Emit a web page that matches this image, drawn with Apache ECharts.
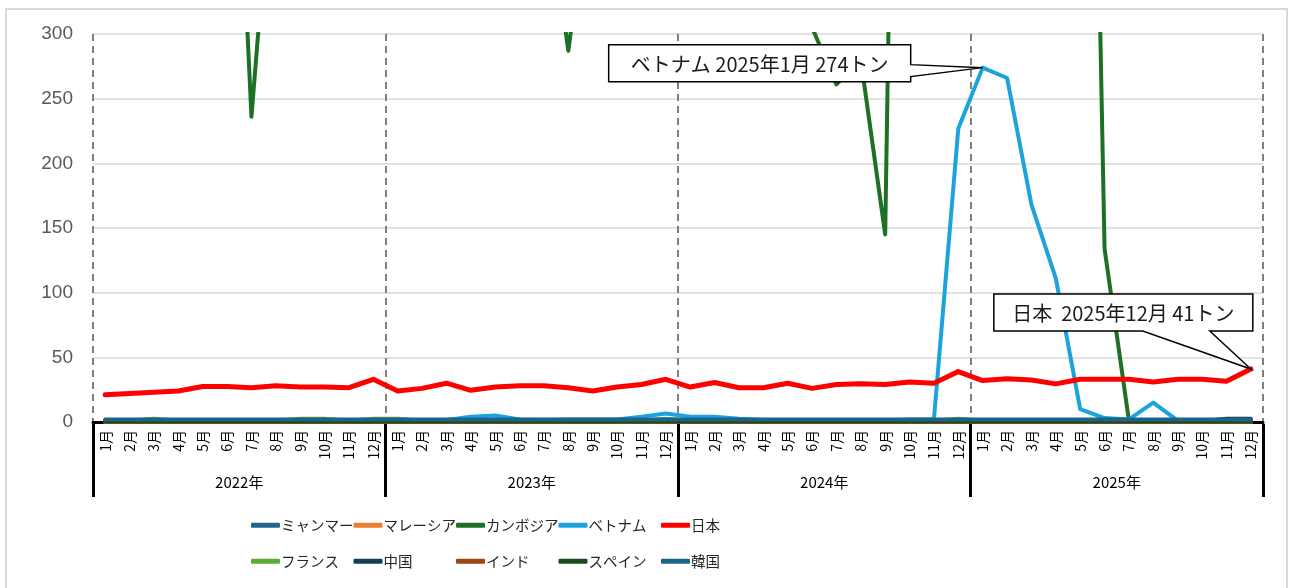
<!DOCTYPE html>
<html>
<head>
<meta charset="utf-8">
<script src="https://cdn.jsdelivr.net/npm/echarts@6/dist/echarts.min.js"></script>
<style>
  html, body { margin: 0; padding: 0; background: #fff; }
  #chart { width: 1290px; height: 588px; }
</style>
</head>
<body>
<div id="chart"></div>
<script>
// Monthly volumes (tonnes), January 2022 – December 2025
const years = ['2022年', '2023年', '2024年', '2025年'];
const months = ['1月', '2月', '3月', '4月', '5月', '6月', '7月', '8月', '9月', '10月', '11月', '12月'];
const yTicks = [0, 50, 100, 150, 200, 250, 300];

const myanmar = [
  1, 1, 1, 1, 1, 1, 1, 1, 1, 1, 1, 1,
  1, 1, 1, 1, 1, 1, 1, 1, 1, 1, 1, 1,
  1, 1, 1, 1, 1, 1, 1, 1, 1, 1, 1, 1,
  1, 1, 1, 1, 1, 1, 1, 1, 1, 1, 1, 1
];
const malaysia = [
  0, 0, 0, 0, 0, 0, 0, 0, 0, 0, 0, 0,
  0, 0, 0, 0, 0, 0, 0, 0, 0, 0, 0, 0,
  0, 0, 0, 0, 0, 0, 0, 0, 0, 0, 0, 0,
  0, 0, 0, 0, 0, 0, 0, 0, 0, 0, 0, 0
];
const cambodia = [
  520, 610, 560, 700, 590, 640, 236, 470, 540, 610, 580, 650,
  620, 540, 600, 680, 560, 520, 425, 287, 430, 560, 620, 700,
  640, 590, 530, 470, 420, 305, 261, 280, 145, 1320, 1500, 1250,
  1400, 1600, 1350, 1200, 1090, 134, 1, 0, 0, 0, 0, 0
];
const vietnam = [
  0.5, 0.5, 1, 0.5, 0.5, 0.5, 0.5, 0.5, 1, 1, 0.5, 1,
  1.5, 1, 1.5, 4, 5, 2, 1.5, 2, 2, 2, 4, 6.5,
  4, 4, 2.5, 1.5, 1, 0.5, 0.5, 0.5, 1, 2, 2, 227,
  274, 266, 168, 111, 10, 3, 2, 15, 1, 0, 0.5, 1
];
const japan = [
  21, 22, 23, 24, 27.5, 27.5, 26.5, 28, 27, 27, 26.5, 33,
  24, 26, 30, 24.5, 27, 28, 28, 26.5, 24, 27, 29, 33,
  27, 30.5, 26.5, 26.5, 30, 26, 29, 29.5, 29, 31, 30, 39,
  32, 33.5, 32.5, 29.5, 33, 33, 33, 31, 33, 33, 31.5, 41
];
const france = [
  1, 1, 2.5, 1, 1, 1, 1, 1, 2.5, 2.5, 1, 2.5,
  2.5, 1, 1, 1, 1, 1, 1, 1, 1, 1, 1, 2.5,
  1, 1, 1, 1, 1, 1, 1, 1, 1, 1, 1, 2.5,
  1, 1, 1, 1, 1, 1, 1, 1, 1, 1, 1, 1
];
const china = [
  0.5, 0.5, 0.5, 0.5, 0.5, 0.5, 0.5, 0.5, 0.5, 0.5, 0.5, 0.5,
  0.5, 0.5, 0.5, 0.5, 0.5, 0.5, 0.5, 0.5, 0.5, 0.5, 0.5, 0.5,
  0.5, 0.5, 0.5, 0.5, 0.5, 0.5, 0.5, 0.5, 0.5, 0.5, 0.5, 0.5,
  0.5, 0.5, 0.5, 0.5, 0.5, 0.5, 0.5, 0.5, 0.5, 0.5, 2.5, 2.5
];
const india = [
  0, 0, 0, 0, 0, 0, 0, 0, 0, 0, 0, 0,
  0, 0, 0, 0, 0, 0, 0, 0, 0, 0, 0, 0,
  0, 0, 0, 0, 0, 0, 0, 0, 0, 0, 0, 0,
  0, 0, 0, 0, 0, 0, 0, 0, 0, 0, 0, 0
];
const spain = [
  0.5, 0.5, 0.5, 0.5, 0.5, 0.5, 0.5, 0.5, 0.5, 0.5, 0.5, 0.5,
  0.5, 0.5, 0.5, 0.5, 0.5, 0.5, 0.5, 0.5, 0.5, 0.5, 0.5, 0.5,
  0.5, 0.5, 0.5, 0.5, 0.5, 0.5, 0.5, 0.5, 0.5, 0.5, 0.5, 0.5,
  0.5, 0.5, 0.5, 0.5, 0.5, 0.5, 0.5, 0.5, 0.5, 0.5, 0.5, 0.5
];
const korea = [
  2, 2, 2, 2, 2, 2, 2, 2, 2, 2, 2, 2,
  2, 2, 2, 2, 2, 2, 2, 2, 2, 2, 2, 2,
  2, 2, 2, 2, 2, 2, 2, 2, 2, 2, 2, 2,
  2, 2, 2, 2, 2, 2, 2, 2, 2, 2, 2, 2
];

// One category per month, e.g. "2025年1月"
const categories = [];
years.forEach(y => months.forEach(m => categories.push(y + m)));

const FONT = '"Noto Sans CJK JP", "Noto Sans", sans-serif';

const seriesDefs = [
  { name: 'ミャンマー', data: myanmar, color: '#23648f', width: 4 },
  { name: 'マレーシア', data: malaysia, color: '#ed7d31', width: 4 },
  { name: 'カンボジア', data: cambodia, color: '#1d7126', width: 4 },
  { name: 'ベトナム', data: vietnam, color: '#1ca3dc', width: 4 },
  { name: '日本', data: japan, color: '#ff0000', width: 5 },
  { name: 'フランス', data: france, color: '#5aad3a', width: 4 },
  { name: '中国', data: china, color: '#133d59', width: 4 },
  { name: 'インド', data: india, color: '#9c4615', width: 4 },
  { name: 'スペイン', data: spain, color: '#1b4a1c', width: 4 },
  { name: '韓国', data: korea, color: '#1a6488', width: 4 }
];

const chart = echarts.init(document.getElementById('chart'), null, { renderer: 'canvas' });

// Legend: two rows of five fixed-width columns
const legends = seriesDefs.map((s, i) => ({
  data: [s.name],
  left: 251 + (i % 5) * 102.5,
  top: i < 5 ? 518 : 554,
  icon: 'roundRect',
  itemWidth: 29,
  itemHeight: 5,
  padding: 0,
  selectedMode: false,
  textStyle: { fontFamily: FONT, fontSize: 14.5, color: '#262626', padding: [0, 0, 0, -4] }
}));

const option = {
  animation: false,
  backgroundColor: '#fff',
  grid: { left: 93, right: 27, top: 34, bottom: 166, containLabel: false },
  legend: legends,
  xAxis: [
    {
      type: 'category',
      data: categories,
      boundaryGap: true,
      position: 'bottom',
      offset: 2,
      axisLine: { show: true, lineStyle: { color: '#000', width: 3 } },
      axisTick: { show: false },
      axisLabel: {
        interval: 0, rotate: 90, margin: 6,
        fontFamily: FONT, fontSize: 14, color: '#000',
        formatter: v => v.slice(v.indexOf('年') + 1)
      },
      splitLine: { show: false }
    },
    {
      type: 'category',
      data: years,
      boundaryGap: true,
      position: 'bottom',
      offset: 2,
      axisLine: { show: false },
      axisTick: { show: true, interval: 0, length: 73, lineStyle: { color: '#000', width: 3 } },
      axisLabel: { interval: 0, margin: 51, fontFamily: FONT, fontSize: 15, color: '#000' },
      splitLine: { show: true, interval: 0, lineStyle: { color: '#7f7f7f', width: 2, type: [7, 5] } }
    }
  ],
  yAxis: {
    type: 'value',
    min: yTicks[0],
    max: yTicks[yTicks.length - 1],
    interval: 50,
    axisLine: { show: false },
    axisTick: { show: false },
    axisLabel: { margin: 20, fontFamily: '"Liberation Sans", Arial, sans-serif', fontSize: 19, color: '#595959' },
    splitLine: { show: true, lineStyle: { color: '#d9d9d9', width: 1.5 } }
  },
  series: seriesDefs.map(s => ({
    name: s.name,
    type: 'line',
    xAxisIndex: 0,
    data: s.data,
    showSymbol: false,
    symbol: 'none',
    color: s.color,
    lineStyle: { color: s.color, width: s.width, cap: 'round', join: 'round' },
    emphasis: { disabled: true }
  }))
};

chart.setOption(option);

// Callout boxes pointing at labelled data points
function callout(seriesName, values, idx, sep, boxFn) {
  const tip = chart.convertToPixel({ xAxisIndex: 0, yAxisIndex: 0 }, [idx, values[idx]]);
  const b = boxFn(tip);
  return [
    {
      type: 'polygon',
      z: 100,
      shape: { points: b.points },
      style: { fill: '#fff', stroke: '#000', lineWidth: 1.5, lineJoin: 'miter' }
    },
    {
      type: 'text',
      z: 101,
      x: b.cx, y: b.cy,
      style: {
        text: seriesName + sep + categories[idx] + ' ' + values[idx] + 'トン',
        fontFamily: FONT, fontSize: 20, fill: '#1a1a1a',
        align: 'center', verticalAlign: 'middle'
      }
    }
  ];
}

const vIdx = vietnam.indexOf(Math.max(...vietnam));
const jIdx = japan.length - 1;

const graphics = [
  {
    type: 'rect', z: -10, silent: true,
    shape: { x: 6, y: 9, width: 1281, height: 600 },
    style: { fill: 'none', stroke: '#d9d9d9', lineWidth: 2 }
  },
  ...callout('ベトナム', vietnam, vIdx, ' ', t => {
    const l = t[0] - 374, r = t[0] - 72, top = t[1] - 23, bot = t[1] + 14;
    return {
      points: [[l, top], [r, top], [r, t[1] - 3], t, [r, t[1] + 9], [r, bot], [l, bot]],
      cx: (l + r) / 2, cy: (top + bot) / 2 + 1
    };
  }),
  ...callout('日本', japan, jIdx, '  ', t => {
    const l = t[0] - 257, r = t[0] + 2, top = t[1] - 75, bot = t[1] - 38;
    return {
      points: [[l, top], [r, top], [r, bot], [t[0] - 41, bot], t, [t[0] - 108, bot], [l, bot]],
      cx: (l + r) / 2, cy: (top + bot) / 2 + 1
    };
  })
];

chart.setOption({ graphic: graphics });
</script>
</body>
</html>
